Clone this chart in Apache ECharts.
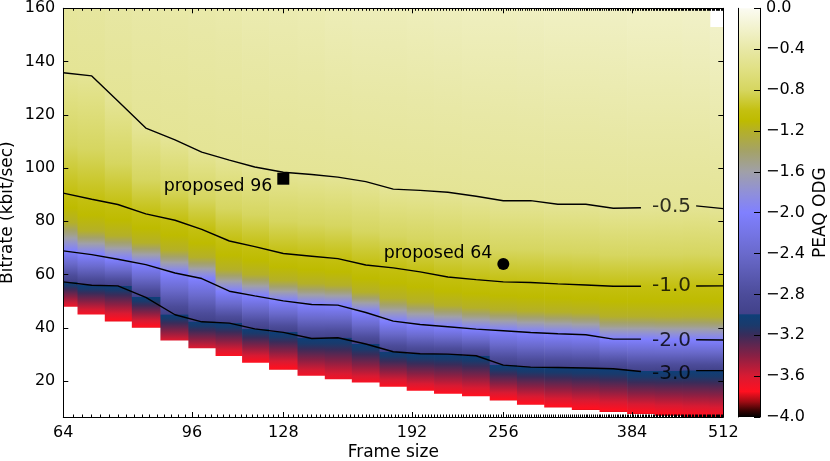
<!DOCTYPE html>
<html><head><meta charset="utf-8">
<script src="https://cdn.jsdelivr.net/npm/echarts@6/dist/echarts.min.js"></script>
<style>html,body{margin:0;padding:0;background:#fff}#c{width:830px;height:461px}</style>
</head><body><div id="c"></div>
<script>
// ---- data ----
const frameSizes = [64,70,76,83,91,99,108,117,128,140,152,166,181,197,215,235,256,279,304,332,362,395,431,470,512];
const bitrateTop = [160,160,160,160,160,160,160,160,160,160,160,160,160,160,160,160,160,160,160,160,160,160,160,160,153];
const odgTop = [-0.45,-0.44,-0.42,-0.40,-0.39,-0.38,-0.37,-0.35,-0.34,-0.33,-0.31,-0.30,-0.30,-0.29,-0.28,-0.27,-0.27,-0.26,-0.25,-0.25,-0.24,-0.23,-0.23,-0.22,-0.22];
const iso05 = [135.8,134.6,125.2,115.0,110.6,106.0,103.0,100.4,98.4,97.6,96.6,94.9,92.1,91.6,90.9,89.4,87.7,87.75,86.4,86.4,84.9,85.1,85.3,85.8,84.75];
const iso10 = [90.6,88.3,86.3,82.8,80.4,77.0,72.6,70.5,67.9,66.9,66.0,63.6,62.5,61.0,59.1,58.1,57.25,57.0,56.5,56.1,55.6,55.6,55.6,55.7,55.75];
const iso12 = [79.5,76.4,74.6,71.9,69.1,66.5,61.9,60.0,57.8,56.6,56.0,53.4,51.1,49.7,48.4,47.5,46.8,46.3,45.9,45.6,44.3,44.3,44.2,44.3,44.1];
const iso15 = [75.0,72.7,70.9,68.5,65.5,63.1,58.5,56.6,54.5,53.3,52.9,50.2,47.5,46.2,45.1,44.1,43.5,42.9,42.5,42.2,40.7,40.7,40.6,40.6,40.5];
const iso20 = [68.9,67.5,65.75,63.75,60.6,58.5,53.75,52.0,50.1,48.75,48.5,45.75,42.5,41.25,40.4,39.5,38.9,38.25,37.75,37.4,35.75,35.75,35.6,35.5,35.4];
const iso30 = [57.25,56.0,55.75,51.4,44.9,42.25,41.75,39.6,38.3,36.0,36.25,33.9,31.0,30.25,30.1,29.5,26.0,25.25,25.1,24.9,24.6,23.6,23.7,23.9,23.9];
const bitrateLow = [47.9,45.0,42.4,40.0,35.2,32.3,29.4,26.9,24.2,22.0,20.7,19.5,17.9,16.4,15.25,14.25,12.7,11.1,10.1,9.1,8.4,7.6,7.0,6.5,6.0];
const odgLow = [-3.68,-3.72,-3.78,-3.78,-3.62,-3.62,-3.74,-3.76,-3.78,-3.7,-3.7,-3.72,-3.74,-3.74,-3.75,-3.76,-3.77,-3.77,-3.77,-3.78,-3.78,-3.78,-3.78,-3.78,-3.78];

const contourLabelText = ['-0.5','-1.0','-2.0','-3.0'];
const contourLabelFrame = 435;
const contourLabelBitrate = [85.6,55.6,35.0,22.9];
const contourGapFrames = [400,460];

const proposedFrames = [128,256];
const proposedBitrates = [96,64];
const proposedText = ['proposed 96','proposed 64'];

const xTickFrames = [64,96,128,192,256,384,512];
const yTicks = [20,40,60,80,100,120,140,160];
const cbarTicks = [0,-0.4,-0.8,-1.2,-1.6,-2.0,-2.4,-2.8,-3.2,-3.6,-4.0];

// colormap knots (ODG value -> colour)
const cmapValues = [-4.0,-3.93,-3.85,-3.75,-3.6,-3.4,-3.2,-3.1,-3.0,-2.99,-2.8,-2.4,-2.0,-1.8,-1.6,-1.4,-1.2,-1.1,-1.0,-0.8,-0.6,-0.4,-0.2,0.0];
const cmapColors = ['#000000','#400404','#a00c14','#ff1020','#d81a32','#882044','#3a2c5a','#1a3a6c','#0e3f78','#42428a','#4c4c9a','#6a6acc','#8080ff','#9090d8','#a0a0a8','#a4a268','#b4b028','#bebb00','#c4c010','#d6d660','#e0e083','#e8e8a6','#f2f2cc','#fbfbf2'];

// ---- helpers ----
const L2 = Math.log2;
const FONT = 'DejaVu Sans';
const cmapRgb = cmapColors.map(h => [parseInt(h.slice(1,3),16),parseInt(h.slice(3,5),16),parseInt(h.slice(5,7),16)]);
function cmap(v){
  if (v <= cmapValues[0]) return cmapColors[0];
  for (let i = 1; i < cmapValues.length; i++){
    if (v <= cmapValues[i]){
      const t = (v - cmapValues[i-1]) / (cmapValues[i] - cmapValues[i-1]);
      const a = cmapRgb[i-1], b = cmapRgb[i];
      return 'rgb(' + a.map((c,j) => Math.round(c + (b[j]-c)*t)).join(',') + ')';
    }
  }
  return cmapColors[cmapColors.length-1];
}
function columnStops(k){
  const pts = [[bitrateLow[k],odgLow[k]],[iso30[k],-3.0],[iso20[k],-2.0],[iso15[k],-1.5],[iso12[k],-1.2],[iso10[k],-1.0],[iso05[k],-0.5],[bitrateTop[k],odgTop[k]]];
  const lo = bitrateLow[k], hi = bitrateTop[k];
  const off = b => Math.max(0, Math.min(1, (b - lo) / (hi - lo)));
  const stops = [];
  for (let i = 0; i < pts.length - 1; i++){
    const [b0,v0] = pts[i], [b1,v1] = pts[i+1];
    stops.push({offset: off(b0), color: cmap(v0)});
    cmapValues.forEach(c => { if (c > v0 && c < v1) stops.push({offset: off(b0 + (c - v0)/(v1 - v0)*(b1 - b0)), color: cmap(c)}); });
  }
  stops.push({offset: 1, color: cmap(pts[pts.length-1][1])});
  return stops;
}
const n = frameSizes.length;
const colStops = frameSizes.map((f,k) => columnStops(k));
const colData = frameSizes.map((f,k) => {
  const lx = L2(f);
  const left = k === 0 ? lx : (lx + L2(frameSizes[k-1])) / 2;
  const right = k === n-1 ? lx : (lx + L2(frameSizes[k+1])) / 2;
  return [left, right, bitrateLow[k], bitrateTop[k], k];
});
const minorFrames = [];
for (let f = 66; f < 512; f += 2) if (xTickFrames.indexOf(f) < 0) minorFrames.push(L2(f));
const majorX = xTickFrames.map(L2);

const txt = {color:'#000', fontFamily: FONT, fontSize: 16};
function xAx(pos, ticks, len, labels, line){
  return {type:'value', gridIndex:0, min:6, max:9, position:pos, z:10,
    axisLine:{show:line, onZero:false, lineStyle:{color:'#000', width:1}},
    axisTick:{show:true, inside:true, length:len, customValues:ticks, lineStyle:{color:'#000', width:1}},
    axisLabel:{show:labels, customValues:ticks, formatter:v => String(Math.round(Math.pow(2,v))), margin:8, ...txt},
    splitLine:{show:false}};
}
function yAx(pos, labels){
  return {type:'value', gridIndex:0, min:6.5, max:160, position:pos, z:10,
    axisLine:{show:true, onZero:false, lineStyle:{color:'#000', width:1}},
    axisTick:{show:true, inside:true, length:5, customValues:yTicks, lineStyle:{color:'#000', width:1}},
    axisLabel:{show:labels, customValues:yTicks, margin:8, ...txt},
    splitLine:{show:false}};
}

const xAxes = [
  Object.assign(xAx('bottom', majorX, 5, true, true), {name:'Frame size', nameLocation:'middle', nameGap:27, nameMoveOverlap:false, nameTextStyle:{color:'#000', fontFamily:FONT, fontSize:17}}),
  xAx('bottom', minorFrames, 2.5, false, false),
  xAx('top', majorX, 5, false, true),
  xAx('top', minorFrames, 2.5, false, false),
  {type:'value', gridIndex:1, min:0, max:1, show:false}
];
const yAxes = [
  Object.assign(yAx('left', true), {name:'Bitrate (kbit/sec)', nameLocation:'middle', nameGap:47, nameMoveOverlap:false, nameTextStyle:{color:'#000', fontFamily:FONT, fontSize:17}}),
  yAx('right', false),
  {type:'value', gridIndex:1, min:-4, max:0, position:'right', z:10,
    axisLine:{show:true, onZero:false, lineStyle:{color:'#000', width:1}},
    axisTick:{show:true, inside:true, length:6, customValues:cbarTicks, lineStyle:{color:'#000', width:1}},
    axisLabel:{show:true, customValues:cbarTicks, margin:6, formatter:v => (v < 0 ? '\u2212' : '') + Math.abs(v).toFixed(1), ...txt},
    splitLine:{show:false},
    name:'PEAQ ODG', nameLocation:'middle', nameGap:52, nameRotate:90, nameTextStyle:{color:'#000', fontFamily:FONT, fontSize:17}},
  {type:'value', gridIndex:1, min:-4, max:0, position:'left', z:10,
    axisLine:{show:true, onZero:false, lineStyle:{color:'#000', width:1}},
    axisTick:{show:false}, axisLabel:{show:false}, splitLine:{show:false}}
];

const series = [];
// heat columns
series.push({
  type:'custom', xAxisIndex:0, yAxisIndex:0, z:1, silent:true,
  data: colData, encode:{x:[0,1], y:[2,3]},
  renderItem(params, api){
    const k = api.value(4);
    const pTL = api.coord([api.value(0), api.value(3)]);
    const pBR = api.coord([api.value(1), api.value(2)]);
    const cs = params.coordSys;
    const yTop = Math.max(pTL[1], cs.y);
    const yBot = Math.min(pBR[1], cs.y + cs.height);
    const xR = Math.min(pBR[0] + 0.6, cs.x + cs.width);
    const grad = new echarts.graphic.LinearGradient(0, pBR[1], 0, pTL[1], colStops[k], true);
    return {type:'rect', shape:{x:pTL[0], y:yTop, width:xR - pTL[0], height:yBot - yTop}, style:{fill:grad}};
  }
});
// colorbar
series.push({
  type:'custom', xAxisIndex:4, yAxisIndex:2, z:1, silent:true,
  data:[[0,1,-4,0]], encode:{x:[0,1], y:[2,3]},
  renderItem(params, api){
    const pTL = api.coord([api.value(0), api.value(3)]);
    const pBR = api.coord([api.value(1), api.value(2)]);
    const stops = cmapValues.map((v,i) => ({offset:(v + 4)/4, color:cmapColors[i]}));
    const grad = new echarts.graphic.LinearGradient(0, pBR[1], 0, pTL[1], stops, true);
    return {type:'rect', shape:{x:pTL[0], y:pTL[1], width:pBR[0]-pTL[0], height:pBR[1]-pTL[1]}, style:{fill:grad}};
  }
});
// contour lines
[iso05, iso10, iso20, iso30].forEach(arr => {
  const seg1 = [], seg2 = [];
  frameSizes.forEach((f,k) => {
    if (f < contourGapFrames[0]) seg1.push([L2(f), arr[k]]);
    else if (f > contourGapFrames[1]) seg2.push([L2(f), arr[k]]);
  });
  [seg1, seg2].forEach(seg => series.push({
    type:'line', xAxisIndex:0, yAxisIndex:0, z:5, data:seg, symbol:'none', silent:true,
    lineStyle:{color:'#000', width:1.4}
  }));
});
// contour labels
series.push({
  type:'scatter', xAxisIndex:0, yAxisIndex:0, z:6, silent:true, symbolSize:1,
  itemStyle:{color:'rgba(0,0,0,0)'},
  data: contourLabelText.map((t,i) => [L2(contourLabelFrame), contourLabelBitrate[i], t]),
  label:{show:true, position:'inside', formatter:p => p.value[2], color:'#000', fontFamily:FONT, fontSize:20}
});
// proposed points
const markerStyle = [{symbol:'rect', offset:[0,8]}, {symbol:'circle', offset:[0,-10]}];
series.push({
  type:'scatter', xAxisIndex:0, yAxisIndex:0, z:7, silent:true,
  data: proposedFrames.map((f,i) => ({value:[L2(f), proposedBitrates[i]], name:proposedText[i],
    symbol:markerStyle[i].symbol, symbolSize:12,
    label:{offset:markerStyle[i].offset}})),
  itemStyle:{color:'#000', opacity:1},
  label:{show:true, position:'left', distance:5, formatter:p => p.name, color:'#000', fontFamily:FONT, fontSize:17.4}
});

const chart = echarts.init(document.getElementById('c'));
chart.setOption({
  animation:false,
  backgroundColor:'#fff',
  textStyle:{fontFamily:FONT},
  grid:[
    {left:63.3, top:8.3, right:106.7, bottom:44, containLabel:false, outerBoundsMode:'none'},
    {left:738.3, top:8.3, width:21.7, bottom:44, containLabel:false, outerBoundsMode:'none'}
  ],
  xAxis: xAxes,
  yAxis: yAxes,
  series: series
});
</script></body></html>
